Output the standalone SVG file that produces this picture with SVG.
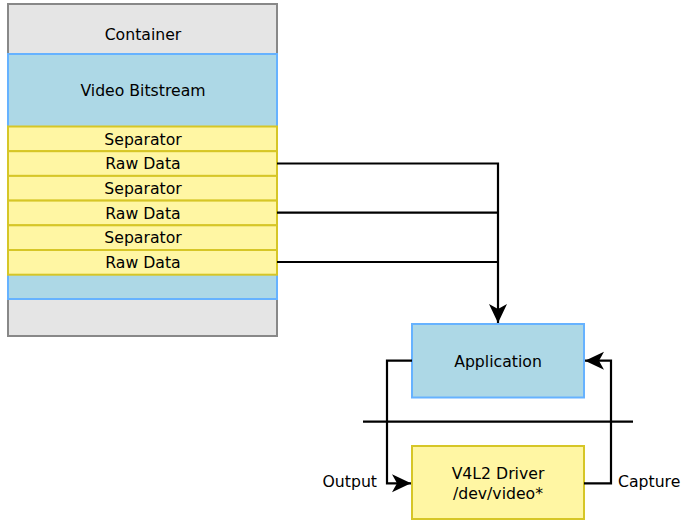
<svg xmlns="http://www.w3.org/2000/svg" width="683" height="520" viewBox="0 0 683 520">
<style>
text{font-family:"DejaVu Sans",sans-serif;font-size:15.7px;fill:#000;text-anchor:middle;dominant-baseline:central}
.gray{fill:#e5e5e5;stroke:#888;stroke-width:2}
.blue{fill:#add8e6;stroke:#66b2ff;stroke-width:2}
.yel{fill:#fff6a3;stroke:#d6c627;stroke-width:2}
.ln{fill:none;stroke:#000;stroke-width:2.2}
</style>
<defs>
<marker id="ah" viewBox="0 0 20 20" refX="19" refY="10" markerWidth="20" markerHeight="20" markerUnits="userSpaceOnUse" orient="auto">
<path d="M0,1 L19,10 L0,19 L5,10 Z" fill="#000"/>
</marker>
</defs>
<g id="container"><rect class="gray" x="8" y="4" width="269" height="332"/><text x="143" y="34">Container</text></g>
<g id="bitstream"><rect class="blue" x="8" y="54" width="269" height="245"/><text x="143" y="90">Video Bitstream</text></g>
<g id="sep1"><rect class="yel" x="8" y="126.5" width="269" height="24.7"/><text x="143" y="139">Separator</text></g>
<g id="raw1"><rect class="yel" x="8" y="151.2" width="269" height="24.7"/><text x="143" y="163.5">Raw Data</text></g>
<g id="sep2"><rect class="yel" x="8" y="175.9" width="269" height="24.7"/><text x="143" y="188">Separator</text></g>
<g id="raw2"><rect class="yel" x="8" y="200.6" width="269" height="24.7"/><text x="143" y="213">Raw Data</text></g>
<g id="sep3"><rect class="yel" x="8" y="225.3" width="269" height="24.7"/><text x="143" y="237.5">Separator</text></g>
<g id="raw3"><rect class="yel" x="8" y="250" width="269" height="24.7"/><text x="143" y="262">Raw Data</text></g>
<g id="application"><rect class="blue" x="412" y="324" width="172" height="73.5"/><text x="498" y="361">Application</text></g>
<g id="driver"><rect class="yel" x="412" y="446" width="172" height="73"/><text x="498" y="473">V4L2 Driver</text><text x="498" y="493">/dev/video*</text></g>
<g id="divider"><line class="ln" x1="363" y1="421.7" x2="633" y2="421.7"/></g>
<g id="connectors">
<path class="ln" d="M277,163.5 H498 V323" marker-end="url(#ah)"/>
<path class="ln" d="M277,212.7 H498"/>
<path class="ln" d="M277,262 H498"/>
<path class="ln" d="M412,360.7 H387 V483.3 H411" marker-end="url(#ah)"/>
<path class="ln" d="M584,483.3 H611 V360.7 H585" marker-end="url(#ah)"/>
<text x="377" y="481" style="text-anchor:end">Output</text>
<text x="618" y="481" style="text-anchor:start">Capture</text>
</g>
</svg>
